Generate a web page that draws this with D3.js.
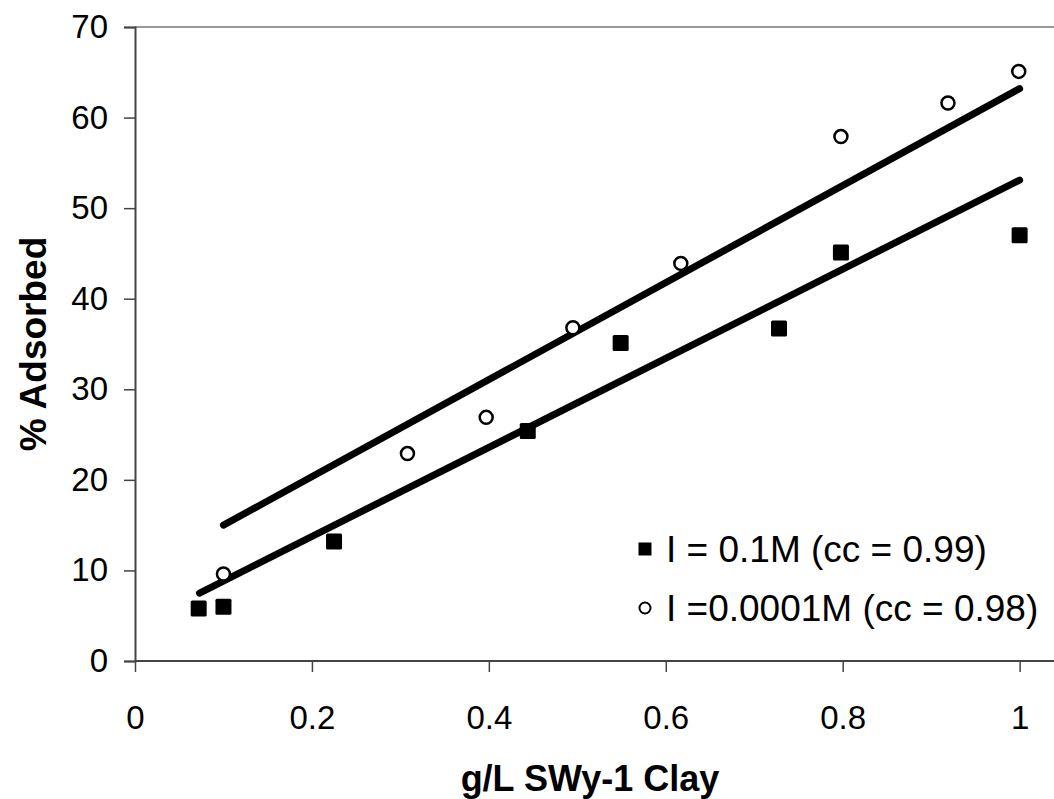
<!DOCTYPE html>
<html>
<head>
<meta charset="utf-8">
<script src="https://cdn.jsdelivr.net/npm/d3@7"></script>
<style>
  body { margin: 0; background: #fff; }
  text { font-family: "Liberation Sans", Arial, sans-serif; }
</style>
</head>
<body>
<div id="container"></div>
<script>
var width = 1054,
    height = 799;

// series: I = 0.1M (filled squares)
var lowX = [0.072, 0.1, 0.225, 0.444, 0.549, 0.728, 0.798, 1.0];
var lowY = [5.8, 6.0, 13.2, 25.4, 35.1, 36.7, 45.1, 47.0];
// series: I = 0.0001M (open circles)
var highX = [0.1, 0.308, 0.397, 0.495, 0.617, 0.798, 0.919, 0.999];
var highY = [9.6, 22.9, 26.9, 36.8, 43.9, 57.9, 61.6, 65.1];
// linear fits (end points)
var fitLowX = [0.073, 1.0];
var fitLowY = [7.5, 53.1];
var fitHighX = [0.1, 1.0];
var fitHighY = [15.0, 63.2];

var xTicks = [0, 0.2, 0.4, 0.6, 0.8, 1];
var yTicks = [0, 10, 20, 30, 40, 50, 60, 70];
var legendLabels = ["I = 0.1M (cc = 0.99)", "I =0.0001M (cc = 0.98)"];

var svg = d3.select("#container")
    .append("svg")
    .attr("width", width)
    .attr("height", height);

svg.append("rect").attr("width", width).attr("height", height).attr("fill", "#fff");

var x = d3.scaleLinear().domain([0, 1.04]).range([135, 1055]);
var y = d3.scaleLinear().domain([0, 70]).range([661, 27]);

//plot area top border
svg.append("line")
    .attr("x1", x(0)).attr("x2", width)
    .attr("y1", y(70)).attr("y2", y(70))
    .attr("stroke", "#999").attr("stroke-width", 2);

//y axis
var yAxis = svg.append("g")
    .attr("transform", "translate(" + x(0) + ",0)")
    .call(d3.axisLeft(y).tickValues(yTicks).tickSize(11).tickPadding(16).tickFormat(d3.format("d")));

//x axis
var xAxis = svg.append("g")
    .attr("transform", "translate(0," + y(0) + ")")
    .call(d3.axisBottom(x).tickValues(xTicks).tickSize(11).tickPadding(34).tickFormat(function (d) { return d; }));

[yAxis, xAxis].forEach(function (g) {
    g.select(".domain").attr("stroke", "#444").attr("stroke-width", 2);
    g.selectAll(".tick line").attr("stroke", "#444").attr("stroke-width", 1.5);
    g.selectAll(".tick text")
        .attr("fill", "#000")
        .style("font-size", "33px");
});
xAxis.select(".domain").attr("d", "M" + x(0) + ",0H" + width);

//trend lines
var line = d3.line()
    .x(function (d) { return x(d[0]); })
    .y(function (d) { return y(d[1]); });

[[fitHighX, fitHighY], [fitLowX, fitLowY]].forEach(function (f) {
    svg.append("path")
        .datum(d3.zip(f[0], f[1]))
        .attr("d", line)
        .attr("fill", "none")
        .attr("stroke", "#000")
        .attr("stroke-width", 7)
        .attr("stroke-linecap", "round");
});

//squares
var sq = 16;
svg.selectAll(".sq")
    .data(d3.zip(lowX, lowY))
    .enter().append("rect")
    .attr("class", "sq")
    .attr("x", function (d) { return x(d[0]) - sq / 2; })
    .attr("y", function (d) { return y(d[1]) - sq / 2; })
    .attr("width", sq).attr("height", sq)
    .attr("rx", 1.5)
    .attr("fill", "#000");

//circles
svg.selectAll(".pt")
    .data(d3.zip(highX, highY))
    .enter().append("circle")
    .attr("class", "pt")
    .attr("cx", function (d) { return x(d[0]); })
    .attr("cy", function (d) { return y(d[1]); })
    .attr("r", 6.5)
    .attr("fill", "#fff")
    .attr("stroke", "#000")
    .attr("stroke-width", 2.5);

//legend
var legend = svg.append("g").attr("transform", "translate(645,549)");
legend.append("rect")
    .attr("x", -6.5).attr("y", -6.5).attr("width", 13).attr("height", 13)
    .attr("fill", "#000");
legend.append("circle")
    .attr("cx", 0).attr("cy", 59).attr("r", 5.5)
    .attr("fill", "#fff").attr("stroke", "#000").attr("stroke-width", 2);
legend.selectAll(".lt")
    .data(legendLabels)
    .enter().append("text")
    .attr("x", 21)
    .attr("y", function (d, i) { return i * 59; })
    .attr("dy", "0.36em")
    .style("font-size", "37px")
    .text(function (d) { return d; });

//axis titles
svg.append("text")
    .attr("x", 590).attr("y", 791)
    .attr("text-anchor", "middle")
    .style("font-size", "36px").style("font-weight", "bold")
    .text("g/L SWy-1 Clay");

svg.append("text")
    .attr("transform", "translate(46,344) rotate(-90)")
    .attr("text-anchor", "middle")
    .style("font-size", "37px").style("font-weight", "bold")
    .text("% Adsorbed");
</script>
</body>
</html>
